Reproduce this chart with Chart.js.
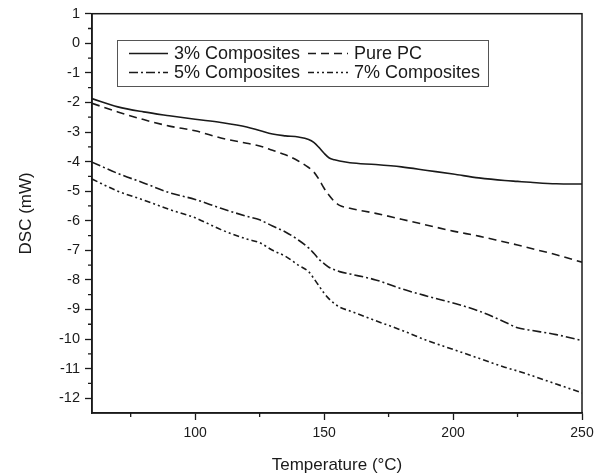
<!DOCTYPE html>
<html>
<head>
<meta charset="utf-8">
<script src="https://cdn.jsdelivr.net/npm/chart.js@4/dist/chart.umd.min.js"></script>
<style>
  html, body { margin: 0; padding: 0; background: #fff; }
  #wrap { width: 604px; height: 476px; }
</style>
</head>
<body>
<div id="wrap"><canvas id="dsc"></canvas></div>
<script>
// temperatures (°C) sampled along the scans
const temps = [60, 70, 80, 90, 100, 110, 120, 125, 130, 135, 140, 144, 146, 148, 150,
               152, 154, 156, 160, 170, 180, 190, 200, 210, 220, 225, 230, 240, 250];

// heat flow (mW) for each sample
const comp3 = [-1.87, -2.15, -2.32, -2.45, -2.57, -2.68, -2.83, -2.95, -3.07, -3.13, -3.17, -3.25, -3.35, -3.52, -3.72,
               -3.88, -3.94, -3.98, -4.04, -4.10, -4.18, -4.30, -4.42, -4.55, -4.64, -4.67, -4.70, -4.75, -4.76];
const purePC = [-2.03, -2.32, -2.58, -2.80, -2.96, -3.20, -3.38, -3.47, -3.62, -3.77, -3.98, -4.20, -4.35, -4.60, -4.90,
                -5.15, -5.35, -5.48, -5.58, -5.75, -5.95, -6.15, -6.35, -6.52, -6.72, -6.82, -6.93, -7.15, -7.40];
const comp5 = [-4.02, -4.40, -4.72, -5.05, -5.28, -5.58, -5.85, -5.97, -6.18, -6.38, -6.65, -6.92, -7.10, -7.30, -7.45,
               -7.58, -7.66, -7.72, -7.80, -8.00, -8.30, -8.55, -8.78, -9.05, -9.42, -9.62, -9.70, -9.85, -10.05];
const comp7 = [-4.59, -5.00, -5.30, -5.62, -5.90, -6.30, -6.62, -6.74, -7.00, -7.20, -7.50, -7.72, -7.95, -8.20, -8.45,
               -8.65, -8.80, -8.92, -9.05, -9.38, -9.70, -10.05, -10.35, -10.65, -10.95, -11.08, -11.22, -11.52, -11.82];

const seriesLabels = ['3% Composites', 'Pure PC', '5% Composites', '7% Composites'];
const xMajor = [100, 150, 200, 250];
const xMinor = [75, 125, 175, 225];

const FONT = "'Liberation Sans', Arial, sans-serif";
const INK = '#1a1a1a';

function pts(ys) {
  return temps.map((t, i) => ({ x: t, y: ys[i] }));
}

function line(label, ys, dash) {
  return {
    label: label,
    data: pts(ys),
    borderColor: INK,
    borderWidth: 1.6,
    borderDash: dash,
    pointRadius: 0,
    cubicInterpolationMode: 'monotone',
    fill: false
  };
}

// box around the plot plus the short minor ticks
const frame = {
  id: 'frame',
  afterDraw(chart) {
    const { ctx, chartArea: a, scales: { x, y } } = chart;
    ctx.save();
    ctx.strokeStyle = INK;
    ctx.lineWidth = 1.5;
    ctx.strokeRect(a.left, a.top, a.right - a.left, a.bottom - a.top);
    ctx.lineWidth = 1.3;
    ctx.beginPath();
    xMinor.forEach(v => {
      const px = x.getPixelForValue(v);
      ctx.moveTo(px, a.bottom);
      ctx.lineTo(px, a.bottom + 4);
    });
    for (let v = -11.5; v < 1; v += 1) {
      const py = y.getPixelForValue(v);
      ctx.moveTo(a.left, py);
      ctx.lineTo(a.left - 4, py);
    }
    ctx.stroke();
    ctx.restore();
  }
};

// legend box inside the plot, two columns by two rows
const legendBox = {
  id: 'legendBox',
  afterDraw(chart) {
    const ctx = chart.ctx;
    const box = { l: 117, t: 40, r: 488, b: 86 };
    const rows = [53.5, 72.5];
    const cols = [{ s: 129, e: 168, tx: 174 }, { s: 308, e: 348, tx: 354 }];
    ctx.save();
    ctx.fillStyle = '#fff';
    ctx.fillRect(box.l, box.t, box.r - box.l, box.b - box.t);
    ctx.strokeStyle = '#555';
    ctx.lineWidth = 1;
    ctx.strokeRect(box.l + 0.5, box.t + 0.5, box.r - box.l, box.b - box.t);
    ctx.font = '18px ' + FONT;
    ctx.textBaseline = 'middle';
    chart.data.datasets.forEach((ds, i) => {
      const c = cols[i % 2];
      const yy = rows[Math.floor(i / 2)];
      ctx.strokeStyle = INK;
      ctx.lineWidth = ds.borderWidth;
      ctx.setLineDash(ds.borderDash || []);
      ctx.beginPath();
      ctx.moveTo(c.s, yy);
      ctx.lineTo(c.e, yy);
      ctx.stroke();
      ctx.setLineDash([]);
      ctx.fillStyle = INK;
      ctx.fillText(ds.label, c.tx, yy + 1);
    });
    ctx.restore();
  }
};

new Chart(document.getElementById('dsc'), {
  type: 'line',
  data: {
    datasets: [
      line(seriesLabels[0], comp3, []),
      line(seriesLabels[1], purePC, [8, 5]),
      line(seriesLabels[2], comp5, [9, 3, 2, 3]),
      line(seriesLabels[3], comp7, [6, 3, 2, 3, 2, 3])
    ]
  },
  options: {
    responsive: true,
    maintainAspectRatio: false,
    animation: false,
    layout: { padding: { left: 0, top: 13, right: 22, bottom: 0 } },
    plugins: { legend: { display: false }, tooltip: { enabled: false } },
    scales: {
      x: {
        type: 'linear',
        min: 60,
        max: 250,
        afterBuildTicks: s => { s.ticks = xMajor.map(v => ({ value: v })); },
        afterFit: s => { s.height = 63; },
        ticks: { color: INK, font: { family: FONT, size: 14 }, padding: 5, maxRotation: 0 },
        grid: { drawOnChartArea: false, tickLength: 7, tickColor: INK, tickWidth: 1.3 },
        border: { color: INK, width: 1.5 },
        title: { display: true, text: 'Temperature (°C)', color: INK,
                 font: { family: FONT, size: 17 }, padding: { top: 1, bottom: 0 } }
      },
      y: {
        min: -12.5,
        max: 1,
        ticks: { stepSize: 1, includeBounds: false, color: INK,
                 font: { family: FONT, size: 14.5 }, padding: 5 },
        afterFit: s => { s.width = 92; },
        grid: { drawOnChartArea: false, tickLength: 7, tickColor: INK, tickWidth: 1.3 },
        border: { color: INK, width: 1.5 },
        title: { display: true, text: 'DSC (mW)', color: INK,
                 font: { family: FONT, size: 17 }, padding: { top: 16, bottom: 0 } }
      }
    }
  },
  plugins: [frame, legendBox]
});
</script>
</body>
</html>
